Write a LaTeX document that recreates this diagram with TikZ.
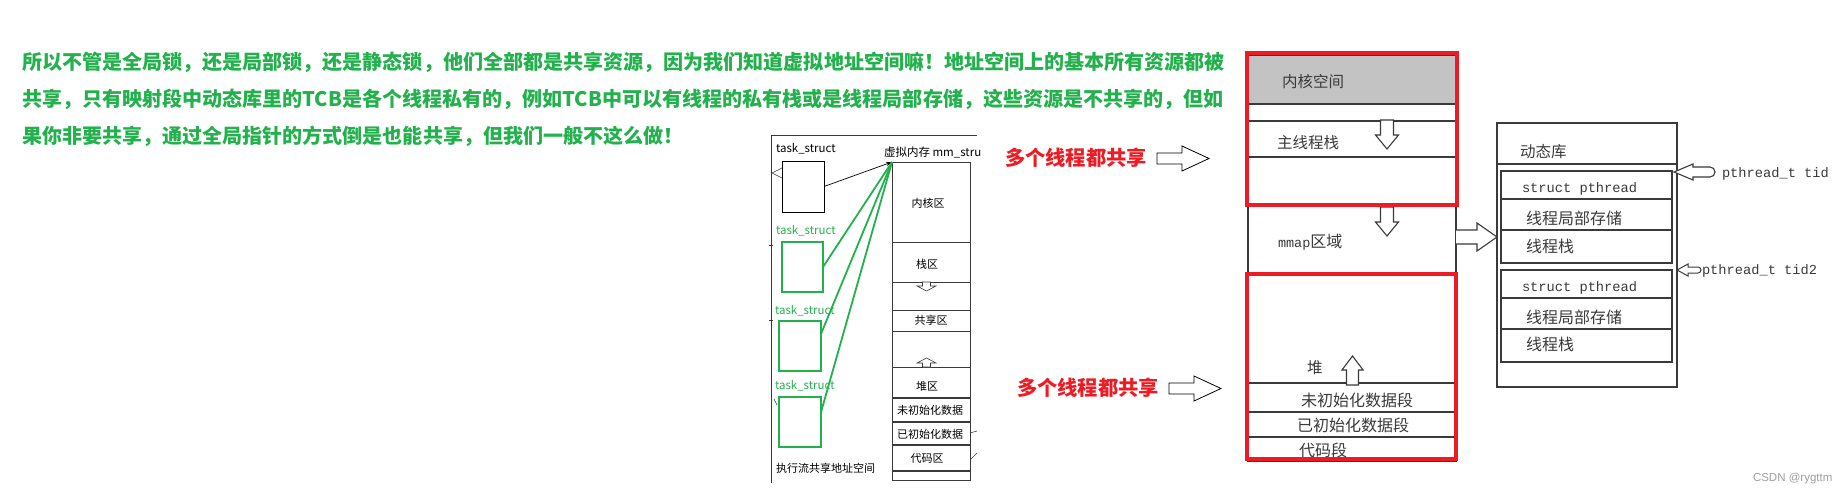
\documentclass[tikz,border=0pt]{standalone}
\usepackage{fontspec}
\usetikzlibrary{arrows.meta}
\newfontfamily\cjk{Noto Sans CJK SC}
\newfontfamily\mono{Liberation Mono}
\newfontfamily\lsans{Liberation Sans}
\definecolor{pgreen}{HTML}{22B14C}
\definecolor{pred}{HTML}{ED1C24}
\definecolor{pgray}{HTML}{C3C3C3}
\definecolor{ink}{HTML}{3A3A3A}
\newcommand{\fs}[1]{\fontsize{#1}{#1}\selectfont}
\tikzset{
  gtext/.style={anchor=west, text=pgreen, font=\cjk\bfseries\fs{20.05}},
  rtext/.style={anchor=west, text=pred, font=\cjk\bfseries\fs{20.3}},
  smalltxt/.style={font=\cjk\fs{11}},
  handtxt/.style={text=ink, font=\cjk\fs{15.5}},
  monotxt/.style={text=ink, font=\mono\fs{13.7}},
  hand/.style={draw=ink, line width=1.3},
  redbox/.style={draw=pred, line width=4, anchor=north west},
  gbox/.style={draw=pgreen, line width=1.8},
  glink/.style={draw=pgreen, line width=1.8},
  bigarrow/.style={draw=black, line width=0.8, fill=white},
  downarr/.pic={\draw[ink, line width=1.1, fill=white] (-6.5,0) -- (6.5,0) -- (6.5,15) -- (11.5,15) -- (0,29) -- (-11.5,15) -- (-6.5,15) -- cycle;},
  smalldown/.pic={\draw[ink, line width=0.6, fill=white] (-4,0) -- (4,0) -- (4,4) -- (9.5,4) -- (0,9) -- (-9.5,4) -- (-4,4) -- cycle;}
}
\begin{document}
\begin{tikzpicture}[x=1pt, y=-1pt, every node/.style={inner sep=0pt, outer sep=0pt}]
\useasboundingbox[fill=white] (0,0) rectangle (1844,495);

% ---------- green paragraph ----------
\node[gtext] (p1) at (22,62) {所以不管是全局锁，还是局部锁，还是静态锁，他们全部都是共享资源，因为我们知道虚拟地址空间嘛！地址空间上的基本所有资源都被};
\node[gtext] (p2) at (22,99) {共享，只有映射段中动态库里的TCB是各个线程私有的，例如TCB中可以有线程的私有栈或是线程局部存储，这些资源是不共享的，但如};
\node[gtext] (p3) at (22,136) {果你非要共享，通过全局指针的方式倒是也能共享，但我们一般不这么做！};

% ---------- left diagram ----------
\draw[ink, line width=0.8] (771,483) -- (771,135) -- (977,135);
\draw[ink, line width=0.6] (782,168) -- (772,173) -- (782,178);
\draw[ink, line width=0.6] (769,245) -- (773,245);
\draw[ink, line width=0.6] (769,320) -- (773,320);
\draw[ink, line width=0.6] (774,399) -- (777,405);

\node[anchor=west, smalltxt, font=\cjk\fs{11.5}] (l0) at (776,149) {task\_struct};
\node[draw=black, line width=0.8, minimum width=42, minimum height=51] (ts0) at (803,186.5) {};
\node[anchor=west, smalltxt, font=\cjk\fs{11.5}, text=pgreen] (l1) at (776,231) {task\_struct};
\node[gbox, minimum width=41, minimum height=50] (g1) at (802.5,267) {};
\node[anchor=west, smalltxt, font=\cjk\fs{11.5}, text=pgreen] (l2) at (775,311) {task\_struct};
\node[gbox, minimum width=42, minimum height=50] (g2) at (800,346) {};
\node[anchor=west, smalltxt, font=\cjk\fs{11.5}, text=pgreen] (l3) at (775,386) {task\_struct};
\node[gbox, minimum width=42, minimum height=50] (g3) at (800,422) {};
\node[anchor=west, smalltxt] (lexec) at (776,468) {执行流共享地址空间};

\node[anchor=west, smalltxt, font=\cjk\fs{11.5}] (vm) at (884,152) {虚拟内存 mm\_stru};
\node[draw=ink, line width=0.8, anchor=north west, minimum width=78, minimum height=318] (mem) at (892,162) {};
\draw[ink, line width=0.8] (892,242) -- (970,242);
\draw[ink, line width=0.8] (892,282) -- (970,282);
\node[draw=ink, line width=0.8, anchor=north west, minimum width=78, minimum height=21] (shr) at (892,310) {};
\draw[ink, line width=0.8] (892,367) -- (970,367);
\draw[ink, line width=1.1] (892,398) -- (970,398);
\draw[ink, line width=1.1] (892,422) -- (970,422);
\draw[ink, line width=1.1] (892,445) -- (970,445);
\draw[ink, line width=1.1] (892,471) -- (970,471);
\draw[ink, line width=0.6] (970,433) -- (977,431);
\draw[ink, line width=0.6] (971,459) -- (977,453);
\pic at (926.5,282) {smalldown};
\pic[yscale=-1] at (926.5,367) {smalldown};
\node[smalltxt] (m1) at (928,203) {内核区};
\node[smalltxt] (m2) at (927,264) {栈区};
\node[smalltxt] (m3) at (shr.center) {共享区};
\node[smalltxt] (m4) at (927,386) {堆区};
\node[smalltxt] (m5) at (930,410) {未初始化数据};
\node[smalltxt] (m6) at (930,434) {已初始化数据};
\node[smalltxt] (m7) at (927,458) {代码区};

\draw[black, line width=0.7, -{Stealth[length=6pt, width=4pt]}] (ts0.east) -- (mem.north west);
\draw[glink] (g1.east) -- (mem.north west);
\draw[glink] (g2.30) -- (mem.north west);
\draw[glink] (g3.25) -- (mem.north west);

% ---------- red labels with outline arrows ----------
\node[rtext] (r1) at (1005,158) {多个线程都共享};
\draw[bigarrow] (1157,153) -- (1182,153) -- (1182,146) -- (1209,158.5) -- (1182,171) -- (1182,164) -- (1157,164) -- cycle;
\node[rtext] (r2) at (1017,388) {多个线程都共享};
\draw[bigarrow] (1169,383) -- (1194,383) -- (1194,376) -- (1221,388.5) -- (1194,401) -- (1194,394) -- (1169,394) -- cycle;

% ---------- middle address-space column ----------
\fill[pgray] (1249,55) rectangle (1455,104);
\node[hand, anchor=north west, minimum width=208, minimum height=406] (col) at (1248,55) {};
\draw[hand] (1248,104) -- (1456,104);
\draw[hand] (1248,121) -- (1456,121);
\draw[hand] (1248,157) -- (1456,157);
\draw[hand] (1248,383) -- (1456,383);
\draw[hand] (1248,412) -- (1456,412);
\draw[hand] (1248,437) -- (1456,437);
\pic at (1387,120) {downarr};
\pic at (1387,207) {downarr};
\pic[yscale=-1, xscale=0.92] at (1352.5,385) {downarr};
\node[handtxt, anchor=west] (c1) at (1282,82) {内核空间};
\node[handtxt, anchor=west] (c2) at (1277,143) {主线程栈};
\node[anchor=west, text=ink] (c3) at (1278,242) {{\mono\fs{13.5}mmap}{\cjk\fs{16}区域}};
\node[handtxt, anchor=west] (c4) at (1307,368) {堆};
\node[handtxt, font=\cjk\fs{16}] (c5) at (1357,400) {未初始化数据段};
\node[handtxt, font=\cjk\fs{16}] (c6) at (1353,425) {已初始化数据段};
\node[handtxt, anchor=west, font=\cjk\fs{16}] (c7) at (1299,450) {代码段};

\node[redbox, minimum width=210, minimum height=152] (rb1) at (1247,53) {};
\node[redbox, minimum width=209, minimum height=185] (rb2) at (1247,274) {};

% arrow from mmap into dynamic library
\draw[ink, line width=1.1, fill=white] (1456,230) -- (1477,230) -- (1477,223) -- (1497,237) -- (1477,251) -- (1477,244) -- (1456,244);

% ---------- dynamic library ----------
\node[hand, anchor=north west, minimum width=180, minimum height=264] (dyn) at (1497,123) {};
\draw[hand] (1497,164) -- (1677,164);
\node[hand, anchor=north west, minimum width=171, minimum height=92] (ib1) at (1501,171) {};
\draw[hand] (1501,199) -- (1672,199);
\draw[hand] (1501,230) -- (1672,230);
\node[hand, anchor=north west, minimum width=171, minimum height=92] (ib2) at (1501,270) {};
\draw[hand] (1501,298) -- (1672,298);
\draw[hand] (1501,329) -- (1672,329);
\node[handtxt, anchor=west] (d0) at (1520,152) {动态库};
\node[monotxt, anchor=west] (d1) at (1522,189) {struct pthread};
\node[handtxt, anchor=west, font=\cjk\fs{16}] (d2) at (1526,218) {线程局部存储};
\node[handtxt, anchor=west, font=\cjk\fs{16}] (d3) at (1526,246) {线程栈};
\node[monotxt, anchor=west] (d4) at (1522,288) {struct pthread};
\node[handtxt, anchor=west, font=\cjk\fs{16}] (d5) at (1526,317) {线程局部存储};
\node[handtxt, anchor=west, font=\cjk\fs{16}] (d6) at (1526,344) {线程栈};

\node[monotxt, anchor=west] (tid1) at (1722,174) {pthread\_t tid};
\node[monotxt, anchor=west] (tid2) at (1702,271) {pthread\_t tid2};
\draw[ink, line width=1.1, fill=white] (1674,172) -- (1693,164) -- (1693,167) -- (1710,167) arc[start angle=-90, end angle=90, radius=5] -- (1693,177) -- (1693,180) -- cycle;
\draw[ink, line width=1.0, fill=white] (1677,270) -- (1688,264) -- (1688,267) -- (1698,267) arc[start angle=-90, end angle=90, radius=3] -- (1688,273) -- (1688,276) -- cycle;

% ---------- watermark ----------
\node[anchor=west, text=gray!75, font=\lsans\fs{11.5}] (wm) at (1753,479) {CSDN @rygttm};
\end{tikzpicture}
\end{document}
